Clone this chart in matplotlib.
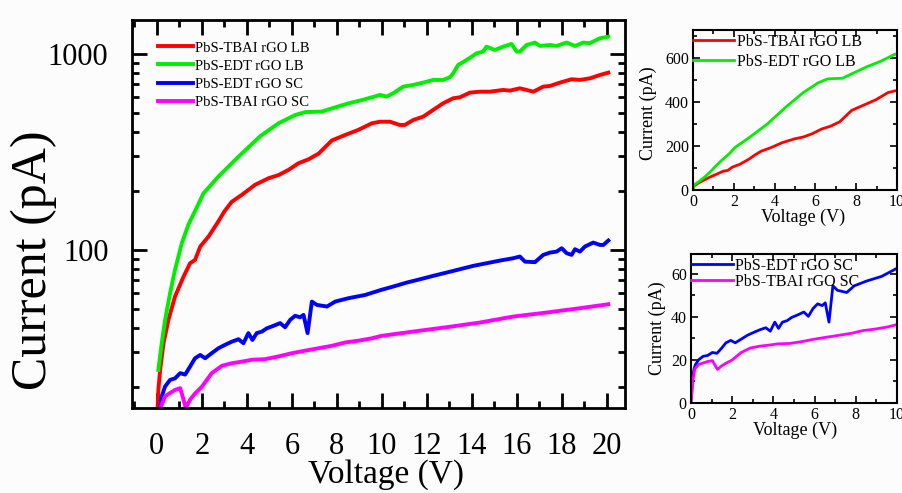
import matplotlib
matplotlib.use("Agg")
import matplotlib.pyplot as plt
from matplotlib.ticker import MultipleLocator, LogLocator, FuncFormatter, NullFormatter
import numpy as np

plt.rcParams['font.family'] = ['Liberation Serif', 'DejaVu Serif']

# ---------------- data ----------------
labels = ["PbS-TBAI rGO LB", "PbS-EDT rGO LB", "PbS-EDT rGO SC", "PbS-TBAI rGO SC"]
colors = ["#ff0000", "#00ee00", "#0000ff", "#ff00ff"]

v_tbai_lb = [0, 0.04, 0.07, 0.15, 0.30, 0.52, 0.81, 1.19, 1.48, 1.70, 1.93, 2.30, 2.74, 3.0, 3.33,
             3.78, 4.37, 4.96, 5.41, 5.85, 6.30, 6.74, 7.19, 7.78, 8.37, 8.96, 9.56, 9.92, 10.36,
             10.80, 11.02, 11.39, 11.84, 12.28, 12.72, 13.17, 13.47, 13.91, 14.36, 14.80, 15.39,
             15.69, 16.13, 16.43, 16.73, 17.17, 17.47, 17.91, 18.43, 18.80, 19.24, 19.69, 20.06]
i_tbai_lb = [0, 15.9, 19.3, 24.4, 33.4, 44, 57.8, 73.1, 85.5, 88.9, 104, 117, 140, 157, 176,
             191, 215, 232, 241, 256, 277, 290, 310, 362, 386, 410, 443, 451, 451,
             434, 434, 460, 479, 518, 560, 594, 601, 635, 642, 642, 655,
             650, 668, 655, 642, 681, 687, 714, 743, 737, 751, 781, 803]

v_edt_lb = [0, 0.07, 0.22, 0.37, 0.59, 0.81, 1.11, 1.41, 1.78, 2.07, 2.74, 3.63, 4.59, 5.41, 6.15,
            6.6, 7.33, 7.6, 8.52, 9.2, 9.92, 10.21, 10.50, 10.95, 11.39, 11.84, 12.28, 12.72,
            13.02, 13.17, 13.39, 13.76, 14.21, 14.50, 14.65, 15.02, 15.39, 15.76, 15.99, 16.13,
            16.43, 16.80, 17.02, 17.47, 17.76, 18.21, 18.58, 18.95, 19.24, 19.69, 20.06]
i_edt_lb = [0, 24.4, 33.4, 44, 60.1, 79.1, 108, 135, 165, 194, 237, 299, 380, 443, 488,
            505, 508, 520, 560, 585, 618, 606, 630, 681, 695, 714, 737, 737,
            760, 797, 879, 931, 1008, 1028, 1090, 1048, 1090, 1125, 1028, 1028,
            1111, 1143, 1099, 1111, 1099, 1143, 1099, 1143, 1135, 1203, 1225]

v_edt_sc = [0, 0.08, 0.15, 0.22, 0.37, 0.59, 0.81, 1.04, 1.26, 1.48, 1.70, 1.93, 2.15, 2.44, 2.74,
            3.04, 3.33, 3.63, 3.85, 4.07, 4.25, 4.44, 4.67, 4.89, 5.19, 5.48, 5.70, 5.93, 6.15,
            6.37, 6.52, 6.70, 6.89, 7.11, 7.56, 7.93, 8.52, 9.26, 9.97, 10.50, 11.10, 11.69,
            12.28, 12.87, 13.47, 14.06, 14.65, 15.24, 15.84, 16.13, 16.36, 16.80, 17.17, 17.47,
            17.76, 17.99, 18.21, 18.43, 18.58, 18.80, 19.02, 19.39, 19.69, 19.84, 20.06]
i_edt_sc = [0, 12, 15.9, 17.9, 20.1, 21.7, 22.1, 23.5, 23.1, 25.4, 28.0, 29.1, 28.0, 29.7, 31.5,
            32.8, 34.0, 35.0, 33.4, 37.6, 34.7, 37.6, 38.3, 39.8, 41.0, 42.3, 40.3, 44.0, 46.1,
            45.3, 46.6, 37.6, 54.5, 52.4, 51.4, 54.5, 56.7, 58.9, 62.5, 65.0, 68.1, 70.8,
            73.7, 76.6, 79.7, 82.9, 85.5, 88.2, 90.7, 92.5, 87.1, 86.6, 94.3, 96.9,
            98.0, 102, 96.2, 94.3, 100.8, 98.0, 104, 109, 106, 106, 111.6]

v_tbai_sc = [0, 0.1, 0.19, 0.37, 0.59, 0.81, 1.04, 1.19, 1.29, 1.48, 1.70, 2.00, 2.44, 2.89, 3.33,
             3.78, 4.22, 4.81, 5.41, 6.00, 6.59, 7.19, 7.78, 8.37, 8.96, 9.56, 9.97, 11.39,
             12.87, 14.36, 15.84, 17.32, 18.80, 20.06]
i_tbai_sc = [0, 11, 15.9, 17.9, 18.6, 19.3, 19.7, 17.2, 15.6, 17.2, 18.5, 20.0, 23.5, 25.6, 26.4,
             26.9, 27.5, 27.7, 28.6, 29.7, 30.6, 31.5, 32.4, 33.7, 34.4, 35.4, 36.4, 38.3,
             40.3, 42.6, 45.7, 47.9, 50.4, 52.8]

series_v = [v_tbai_lb, v_edt_lb, v_edt_sc, v_tbai_sc]
series_i = [i_tbai_lb, i_edt_lb, i_edt_sc, i_tbai_sc]

main_xticks = [0, 2, 4, 6, 8, 10, 12, 14, 16, 18, 20]
main_yticks = [100, 1000]

# ---------------- figure ----------------
fig = plt.figure(figsize=(9.03, 4.93), dpi=100, facecolor='#fcfcfc')

# main log axes
ax = fig.add_axes([0.1462, 0.1724, 0.5459, 0.787])
ax.set_facecolor('#fcfcfc')
for v, c, col, lab in zip(series_v, series_i, colors, labels):
    ax.plot(v, c, color=col, lw=2.8, label=lab, solid_joinstyle='round')
ax.set_yscale('log', nonpositive='mask')
ax.set_xlim(-1.1, 20.8)
ax.set_ylim(15.6, 1490)
ax.set_xticks(main_xticks)
ax.xaxis.set_minor_locator(MultipleLocator(1))
ax.set_yticks(main_yticks)
ax.yaxis.set_minor_locator(LogLocator(base=10, subs=np.arange(2, 10)))
ax.yaxis.set_major_formatter(FuncFormatter(lambda y, p: f"{y:.0f}"))
ax.yaxis.set_minor_formatter(NullFormatter())
ax.tick_params(which='both', direction='in', top=True, right=True, width=2)
ax.tick_params(which='major', length=11, labelsize=22)
ax.tick_params(axis='x', which='major', pad=17)
ax.tick_params(axis='y', which='major', pad=17)
ax.tick_params(which='minor', length=5)
for s in ax.spines.values():
    s.set_linewidth(2)
ax.set_xlabel('Voltage (V)', fontsize=24, va='center', ha='center')
ax.xaxis.set_label_coords(0.515, -0.172)
ax.set_ylabel('Current (pA)', fontsize=36, va='center', ha='center')
ax.yaxis.set_label_coords(-0.2, 0.38)
ax.legend(loc='upper left', bbox_to_anchor=(0.052, 0.945), frameon=False, fontsize=10.5,
          handlelength=2.4, handletextpad=0.15, labelspacing=0.33, borderpad=0, borderaxespad=0)


def style_inset(a, ymax, yminor):
    a.set_xlim(0, 10)
    a.set_ylim(0, ymax)
    a.xaxis.set_major_locator(MultipleLocator(2))
    a.xaxis.set_minor_locator(MultipleLocator(1))
    a.yaxis.set_minor_locator(MultipleLocator(yminor))
    a.tick_params(which='both', direction='in', top=True, right=True, width=1.2)
    a.tick_params(which='major', length=5, labelsize=11.5, pad=3)
    a.tick_params(axis='x', which='major', pad=3)
    a.tick_params(which='minor', length=3)
    for s in a.spines.values():
        s.set_linewidth(1.5)
    a.set_facecolor('#fcfcfc')


# top inset: LB
ax1 = fig.add_axes([0.7674, 0.6146, 0.226, 0.3245])
for k in (0, 1):
    ax1.plot(series_v[k], series_i[k], color=colors[k], lw=2, label=labels[k])
style_inset(ax1, 727, 100)
ax1.yaxis.set_major_locator(MultipleLocator(200))
ax1.set_xlabel('Voltage (V)', fontsize=13, va='center', ha='center')
ax1.xaxis.set_label_coords(0.54, -0.17)
ax1.set_ylabel('Current (pA)', fontsize=13, va='center', ha='center')
ax1.yaxis.set_label_coords(-0.22, 0.48)
ax1.legend(loc='upper left', bbox_to_anchor=(0.0, 0.975), frameon=False, fontsize=11.5,
           handlelength=2.6, handletextpad=0.15, labelspacing=0.25, borderpad=0, borderaxespad=0)

# bottom inset: SC
ax2 = fig.add_axes([0.7652, 0.1826, 0.2281, 0.3022])
for k in (2, 3):
    ax2.plot(series_v[k], series_i[k], color=colors[k], lw=2, label=labels[k])
style_inset(ax2, 69.3, 10)
ax2.yaxis.set_major_locator(MultipleLocator(20))
ax2.set_xlabel('Voltage (V)', fontsize=13, va='center', ha='center')
ax2.xaxis.set_label_coords(0.505, -0.185)
ax2.set_ylabel('Current (pA)', fontsize=13, va='center', ha='center')
ax2.yaxis.set_label_coords(-0.165, 0.5)
ax2.legend(loc='upper left', bbox_to_anchor=(0.0, 0.975), frameon=False, fontsize=11.5,
           handlelength=2.6, handletextpad=0.15, labelspacing=0.02, borderpad=0, borderaxespad=0)

fig.savefig('out.png', dpi=100, facecolor=fig.get_facecolor())
